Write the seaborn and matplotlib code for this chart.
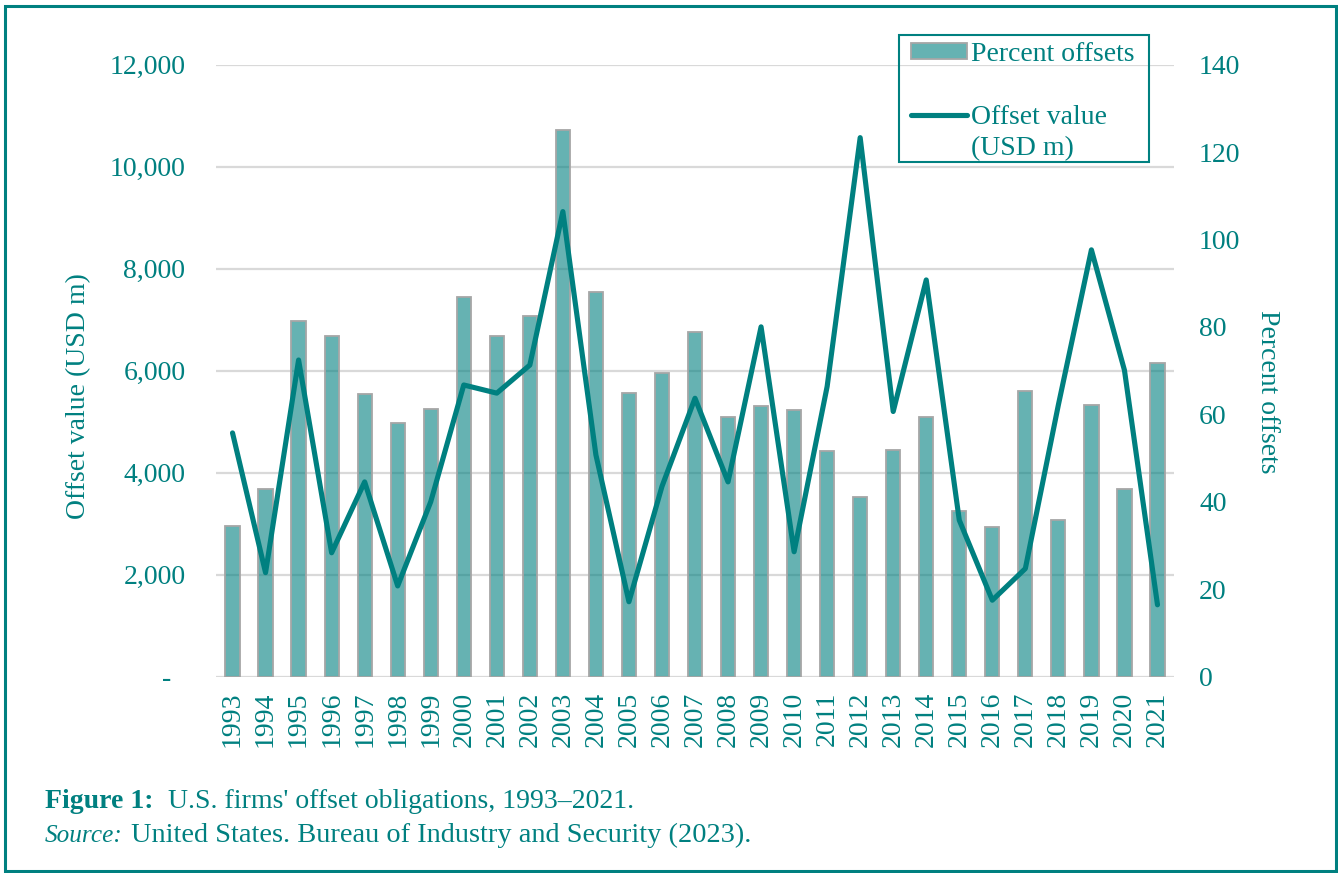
import numpy as np
import pandas as pd
import matplotlib
matplotlib.use("Agg")
import matplotlib.pyplot as plt
import seaborn as sns
from matplotlib.legend_handler import HandlerLine2D
from matplotlib.patches import Rectangle
from matplotlib.ticker import FuncFormatter, FixedLocator, FixedFormatter

# ---------------- data ----------------
years = ["1993", "1994", "1995", "1996", "1997", "1998", "1999", "2000", "2001", "2002",
         "2003", "2004", "2005", "2006", "2007", "2008", "2009", "2010", "2011", "2012",
         "2013", "2014", "2015", "2016", "2017", "2018", "2019", "2020", "2021"]
offset_value = [4780, 2040, 6210, 2430, 3820, 1780, 3430, 5720, 5560, 6110,
                9120, 4350, 1470, 3730, 5460, 3820, 6860, 2450, 5690, 10570,
                5200, 7780, 3070, 1500, 2120, 5330, 8370, 6010, 1410]
percent_offsets = [34.5, 42.9, 81.4, 78.0, 64.7, 58.1, 61.2, 86.9, 78.0, 82.4,
                   125.1, 87.9, 65.0, 69.5, 78.9, 59.3, 61.9, 60.9, 51.7, 41.0,
                   51.9, 59.3, 38.0, 34.3, 65.4, 35.8, 62.2, 42.9, 71.8]
left_ticks = [0, 2000, 4000, 6000, 8000, 10000, 12000]
right_ticks = [0, 20, 40, 60, 80, 100, 120, 140]
bar_label = "Percent offsets"
line_label = "Offset value\n(USD m)"
left_axis_label = "Offset value (USD m)"
right_axis_label = "Percent offsets"
caption_bold = "Figure 1:"
caption_rest = "U.S. firms' offset obligations, 1993\u20132021."
source_italic = "Source:"
source_rest = "United States. Bureau of Industry and Security (2023)."

# ---------------- style ----------------
TEAL = "#008080"
BAR_FACE = (0, 128 / 255, 128 / 255, 0.6)
BAR_EDGE = "#a6a6a6"
GRID = "#d9d9d9"
FS = 20

sns.set_theme(style="white")
plt.rcParams["font.family"] = ["Liberation Serif", "DejaVu Serif"]
plt.rcParams["font.size"] = FS

df = pd.DataFrame({"year": years, "value": offset_value, "pct": percent_offsets})
n = len(years)

W, H = 1338, 873
fig = plt.figure(figsize=(W / 100, H / 100), dpi=100)
fig.patch.set_facecolor("white")
rect = [216 / W, 1 - 676.7 / H, 958 / W, 612 / H]

ax = fig.add_axes(rect)          # left scale + grid
ax_bar = ax.twinx()              # bars, right scale
ax_line = ax.twiny()             # line, shares left scale, drawn on top

# bars
sns.barplot(data=df, x="year", y="pct", order=years, ax=ax_bar, color=TEAL,
            saturation=1, width=0.43, edgecolor=BAR_EDGE, linewidth=1.3,
            legend=False)
for p in ax_bar.patches:
    p.set_facecolor(BAR_FACE)
    p.set_edgecolor(BAR_EDGE)

# line
sns.lineplot(data=df, x="year", y="value", ax=ax_line, color=TEAL,
             linewidth=3.7, legend=False, sort=False)
for ln in ax_line.lines:
    ln.set_solid_capstyle("round")
    ln.set_solid_joinstyle("round")

# limits
ax.set_ylim(0, 12000)
ax_bar.set_ylim(0, 140)
ax.set_xlim(-0.5, n - 0.5)
ax_line.set_xlim(-0.5, n - 0.5)

# left axis
ax.yaxis.set_major_locator(FixedLocator(left_ticks))
ax.yaxis.set_major_formatter(FuncFormatter(lambda v, p: "-  " if v == 0 else f"{v:,.0f}"))
ax.tick_params(axis="y", length=0, pad=22, labelcolor=TEAL, labelsize=FS)
ax.yaxis.grid(True, color=GRID, linewidth=1.6)
ax.xaxis.grid(False)
ax.set_ylabel(left_axis_label, color=TEAL, fontsize=FS)
ax.yaxis.label.set_va("center")
ax.yaxis.set_label_coords(-0.143, 0.459)

# x axis
ax.xaxis.set_major_locator(FixedLocator(list(range(n))))
ax.xaxis.set_major_formatter(FixedFormatter(years))
ax.tick_params(axis="x", length=0, pad=11, labelcolor=TEAL, labelsize=FS, labelrotation=90)
ax.set_xlabel("")
ax_bar.set_xlabel("")

# right axis
ax_bar.yaxis.set_major_locator(FixedLocator(right_ticks))
ax_bar.tick_params(axis="y", length=0, pad=18, labelcolor=TEAL, labelsize=FS)
ax_bar.grid(False)
ax_bar.set_ylabel(right_axis_label, color=TEAL, fontsize=FS, rotation=270)
ax_bar.yaxis.label.set_va("center")
ax_bar.yaxis.set_label_coords(1.098, 0.4657)

# line axis: hide everything
ax_line.xaxis.set_visible(False)
ax_line.yaxis.set_visible(False)
ax_line.grid(False)
ax_line.patch.set_visible(False)

for a in (ax, ax_bar, ax_line):
    for s in a.spines.values():
        s.set_visible(False)


class FirstLineHandler(HandlerLine2D):
    """Line handle aligned with the first line of a two-line label."""
    def create_artists(self, legend, orig_handle, xdescent, ydescent, width,
                       height, fontsize, trans):
        arts = super().create_artists(legend, orig_handle, xdescent, ydescent,
                                      width, height, fontsize, trans)
        for a in arts:
            a.set_ydata(np.asarray(a.get_ydata()) + 0.67 * fontsize)
        return arts


bar_handle = ax_bar.containers[0]
line_handle = ax_line.lines[0]
for a in (ax, ax_bar, ax_line):
    if a.get_legend() is not None:
        a.get_legend().remove()
leg = ax_line.legend([bar_handle, line_handle], [bar_label, line_label],
                     loc="upper left", bbox_to_anchor=(904 / W, 1 - 35 / H),
                     bbox_transform=fig.transFigure, borderaxespad=0,
                     borderpad=0.25, labelspacing=1.37, handlelength=2.0,
                     handleheight=0.55, handletextpad=0.15, fontsize=FS,
                     frameon=False,
                     handler_map={line_handle: FirstLineHandler()})
for t in leg.get_texts():
    t.set_color(TEAL)
    t.set_linespacing(1.34)

# legend border (Excel-style box with wider side padding)
fig.patches.append(Rectangle((899 / W, 1 - 162 / H), (1149 - 899) / W, (162 - 35) / H,
                             transform=fig.transFigure, fill=False,
                             edgecolor=TEAL, linewidth=1.5, zorder=5))

# caption
renderer = fig.canvas.get_renderer()
t1 = fig.text(45 / W, 1 - 808 / H, caption_bold, fontweight="bold", color=TEAL,
              fontsize=FS, va="baseline", ha="left")
bb = t1.get_window_extent(renderer=renderer)
fig.text((bb.x1 + 15) / W, 1 - 808 / H, caption_rest, color=TEAL, fontsize=FS,
         va="baseline", ha="left")
t2 = fig.text(45 / W, 1 - 842 / H, source_italic, fontstyle="italic", color=TEAL,
              fontsize=18.2, va="baseline", ha="left")
bb2 = t2.get_window_extent(renderer=renderer)
fig.text((bb2.x1 + 8) / W, 1 - 842 / H, source_rest, color=TEAL, fontsize=20.4,
         va="baseline", ha="left")

# outer frame
fig.patches.append(Rectangle((5 / W, 1 - 871 / H), (1336 - 5) / W, (871 - 6) / H,
                             transform=fig.transFigure, fill=False,
                             edgecolor=TEAL, linewidth=2.2))

fig.savefig("out.png", dpi=100)
